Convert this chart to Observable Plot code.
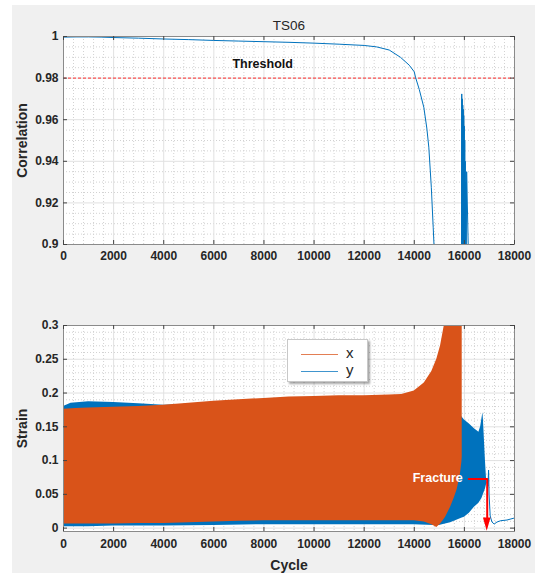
<!DOCTYPE html>
<html>
<head>
<meta charset="utf-8">
<script src="https://cdn.jsdelivr.net/npm/d3@7"></script>
<script src="https://cdn.jsdelivr.net/npm/@observablehq/plot@0.6"></script>
<style>
  body { margin: 0; background: #ffffff; font-family: "Liberation Sans", Arial, sans-serif; }
  #bg { position: absolute; left: 12px; top: 5px; width: 523px; height: 568px; background: #f0f0f0; }
  #top, #bot { position: absolute; left: 0; }
  #top { top: 0; }
  #bot { top: 285px; }
  #legend { position: absolute; left: 287px; top: 339px; width: 81px; height: 43px; background: #fff;
            border: 1px solid #c8c8c8; box-shadow: 2px 2px 2px rgba(0,0,0,0.35); box-sizing: border-box; }
  .lg-row { position: absolute; left: 0; height: 16px; width: 100%; }
  .lg-line { position: absolute; left: 13px; width: 37px; top: 8px; height: 0; border-top: 1px solid; opacity: 0.75; }
  .lg-text { position: absolute; left: 58px; top: -2px; font-size: 15px; color: #262626; line-height: 18px; }
</style>
</head>
<body>
<div id="bg"></div>
<div id="top"></div>
<div id="bot"></div>
<div id="legend"></div>
<script>
// ---------- data ----------
const cycleTicks = [0, 2000, 4000, 6000, 8000, 10000, 12000, 14000, 16000, 18000];
const corrTicks = [0.9, 0.92, 0.94, 0.96, 0.98, 1];
const strainTicks = [0, 0.05, 0.1, 0.15, 0.2, 0.25, 0.3];

const chartTitle = "TS06";
const thresholdValue = 0.98;
const thresholdLabel = "Threshold";
const thresholdLabelCycle = 7950;
const thresholdLabelCorr = 0.9868;

// correlation curve (top panel)
const corrCycle = [0, 500, 1000, 1500, 2000, 3000, 4000, 5000, 6000, 7000, 8000, 9000, 10000, 11000, 12000,
  12500, 13000, 13450, 13800, 14000, 14050, 14200, 14380, 14500, 14580, 14680, 14755, 14790, 14850, 14900,
  15800, 15885, 15895, 15905, 15915, 15925, 15935, 15945, 15955, 15965, 15975, 15985, 15995, 16005, 16015,
  16025, 16035, 16045, 16055, 16070, 16090, 16160, 16200];
const corrValue = [0.9997, 0.9998, 0.9998, 0.9997, 0.9995, 0.9992, 0.9988, 0.9985, 0.9981, 0.9978, 0.9975, 0.9972, 0.9968, 0.9963, 0.9957,
  0.9950, 0.9935, 0.9900, 0.9862, 0.9830, 0.9804, 0.9745, 0.9660, 0.9560, 0.9468, 0.9275, 0.9083, 0.8990, 0.8500, 0.8000,
  0.8000, 0.8800, 0.9724, 0.8800, 0.9700, 0.8800, 0.9670, 0.8800, 0.9650, 0.8800, 0.9620, 0.8800, 0.9570, 0.8800, 0.9500,
  0.8800, 0.9400, 0.8800, 0.9300, 0.8800, 0.9350, 0.8950, 0.8500];

// strain x (orange band)
const xCycle = [0, 500, 1000, 2000, 3000, 4000, 5000, 6000, 7000, 8000, 9000, 10000, 11000, 12000, 13000, 13500,
  14000, 14400, 14700, 14900, 15050, 15150, 15250, 15450, 15600, 15710, 15800, 15850, 15900, 15913];
const xUpper = [0.176, 0.177, 0.178, 0.179, 0.180, 0.182, 0.185, 0.188, 0.190, 0.192, 0.194, 0.195, 0.196, 0.196, 0.197, 0.198,
  0.203, 0.215, 0.232, 0.250, 0.270, 0.290, 0.310, 0.320, 0.320, 0.320, 0.320, 0.320, 0.320, 0.320];
const xLower = [0.006, 0.006, 0.006, 0.006, 0.007, 0.007, 0.008, 0.009, 0.010, 0.011, 0.011, 0.011, 0.011, 0.011, 0.011, 0.011,
  0.011, 0.009, 0.005, 0.001, 0.006, 0.011, 0.016, 0.031, 0.045, 0.057, 0.072, 0.082, 0.098, 0.105];

// strain y (blue band)
const yCycle = [0, 300, 1000, 2000, 3000, 4000, 6000, 8000, 10000, 12000, 14000, 14800, 15000, 15450, 15913,
  16000, 16200, 16400, 16580, 16650, 16700, 16740, 16760, 16800, 16840, 16880, 16900];
const yUpper = [0.180, 0.185, 0.187, 0.186, 0.184, 0.182, 0.185, 0.188, 0.190, 0.192, 0.195, 0.200, 0.200, 0.190, 0.164,
  0.160, 0.154, 0.147, 0.142, 0.150, 0.162, 0.171, 0.160, 0.130, 0.100, 0.075, 0.068];
const yLower = [0.002, 0.002, 0.002, 0.003, 0.003, 0.003, 0.004, 0.005, 0.005, 0.005, 0.005, 0.004, 0.004, 0.008, 0.015,
  0.016, 0.022, 0.031, 0.037, 0.041, 0.044, 0.048, 0.050, 0.054, 0.058, 0.064, 0.068];

// strain y after fracture (thin blue line)
const tailCycle = [16900, 16940, 16965, 16985, 17030, 17100, 17190, 17300, 17450, 17700, 17900, 18000];
const tailStrain = [0.068, 0.062, 0.086, 0.050, 0.018, 0.009, 0.006, 0.009, 0.011, 0.012, 0.014, 0.015];

// fracture annotation
const fractureLabel = "Fracture";
const fractureLabelCycle = 15935;
const fractureLabelStrain = 0.0741;
const fractureLineCycle = [16177, 16911, 16911];
const fractureLineStrain = [0.0727, 0.0727, 0.0150];
const fractureHeadCycle = [16760, 16911, 17062];
const fractureHeadTip = [0.0150, -0.0045, 0.0150];
const fractureHeadBase = [0.0150, 0.0150, 0.0150];

const seriesNames = ["x", "y"];
const seriesColors = ["#D95319", "#0072BD"];

// ---------- helpers ----------
const W = 539;
const font = "'Liberation Sans', Arial, sans-serif";
const textColor = "#262626";
const minorGrid = {stroke: "#d2d2d2", strokeDasharray: "1,2", strokeWidth: 1};
const majorGrid = {stroke: "#e1e1e1", strokeWidth: 1};

function frameMarks(xTicks, yTicks, minorX, minorY, plotW, plotH) {
  return {
    grid: [
      Plot.ruleX(minorX, minorGrid),
      Plot.ruleY(minorY, minorGrid),
      Plot.ruleX(xTicks, majorGrid),
      Plot.ruleY(yTicks, majorGrid)
    ],
    box: [
      Plot.frame({stroke: "#8a8a8a", strokeWidth: 1}),
      Plot.tickX(xTicks, {x: d => d, insetTop: plotH - 4, stroke: "#444"}),
      Plot.tickX(xTicks, {x: d => d, insetBottom: plotH - 4, stroke: "#444"}),
      Plot.tickY(yTicks, {y: d => d, insetRight: plotW - 4, stroke: "#444"}),
      Plot.tickY(yTicks, {y: d => d, insetLeft: plotW - 4, stroke: "#444"})
    ]
  };
}

// ---------- top panel ----------
{
  const mL = 63, mR = 25, mT = 36, mB = 41, H = 285;
  const plotW = W - mL - mR, plotH = H - mT - mB;
  const minorX = d3.range(0, 18001, 400).filter(v => v % 2000 !== 0);
  const minorY = d3.range(0, 21).map(i => 0.9 + i * 0.005).filter((v, i) => i % 4 !== 0);
  const fm = frameMarks(cycleTicks, corrTicks, minorX, minorY, plotW, plotH);
  const corrData = corrCycle.map((c, i) => ({c, v: corrValue[i]}));
  const chart = Plot.plot({
    width: W, height: H,
    marginLeft: mL, marginRight: mR, marginTop: mT, marginBottom: mB,
    style: {background: "transparent", fontFamily: font, overflow: "visible"},
    x: {domain: [0, 18000]},
    y: {domain: [0.9, 1]},
    marks: [
      Plot.frame({fill: "white"}),
      ...fm.grid,
      Plot.ruleY([thresholdValue], {stroke: "#ff2a2a", strokeDasharray: "3,2", strokeWidth: 1}),
      Plot.line(corrData, {x: "c", y: "v", stroke: "#0072BD", strokeWidth: 1, clip: true}),
      Plot.text([thresholdLabel], {x: thresholdLabelCycle, y: thresholdLabelCorr, text: d => d,
        fontWeight: "bold", fontSize: 12.5, fill: "#111"}),
      ...fm.box,
      Plot.axisX(cycleTicks, {tickSize: 0, tickPadding: 7, fontWeight: "bold", fontSize: 12, fill: textColor, label: null, tickFormat: d => String(d)}),
      Plot.axisY(corrTicks, {tickSize: 0, tickPadding: 5, fontWeight: "bold", fontSize: 12, fill: textColor, label: null, tickFormat: d => String(d)}),
      Plot.text([chartTitle], {frameAnchor: "top", dy: -11, text: d => d, fontSize: 13.5, fill: textColor, lineAnchor: "middle"}),
      Plot.text(["Correlation"], {frameAnchor: "left", dx: -41, rotate: -90, text: d => d, fontSize: 14, fontWeight: "bold", fill: textColor, textAnchor: "middle", lineAnchor: "middle"})
    ]
  });
  document.getElementById("top").appendChild(chart);
}

// ---------- bottom panel ----------
{
  const mL = 63, mR = 25, mT = 40, mB = 42, H = 288;
  const plotW = W - mL - mR, plotH = H - mT - mB;
  const minorX = d3.range(0, 18001, 400).filter(v => v % 2000 !== 0);
  const minorY = d3.range(0, 31).map(i => i * 0.01).filter((v, i) => i % 5 !== 0);
  const fm = frameMarks(cycleTicks, strainTicks, minorX, minorY, plotW, plotH);
  const xData = xCycle.map((c, i) => ({c, lo: xLower[i], hi: xUpper[i]}));
  const yData = yCycle.map((c, i) => ({c, lo: yLower[i], hi: yUpper[i]}));
  const tailData = tailCycle.map((c, i) => ({c, v: tailStrain[i]}));
  const arrowLine = fractureLineCycle.map((c, i) => ({c, v: fractureLineStrain[i]}));
  const arrowHead = fractureHeadCycle.map((c, i) => ({c, tip: fractureHeadTip[i], base: fractureHeadBase[i]}));
  const chart = Plot.plot({
    width: W, height: H,
    marginLeft: mL, marginRight: mR, marginTop: mT, marginBottom: mB,
    style: {background: "transparent", fontFamily: font, overflow: "visible"},
    x: {domain: [0, 18000]},
    y: {domain: [-0.005, 0.3]},
    marks: [
      Plot.frame({fill: "white"}),
      ...fm.grid,
      Plot.areaY(yData, {x: "c", y1: "lo", y2: "hi", fill: seriesColors[1], clip: true}),
      Plot.line(tailData, {x: "c", y: "v", stroke: seriesColors[1], strokeWidth: 1, clip: true}),
      Plot.areaY(xData, {x: "c", y1: "lo", y2: "hi", fill: seriesColors[0], clip: true}),
      Plot.text([fractureLabel], {x: fractureLabelCycle, y: fractureLabelStrain, text: d => d, textAnchor: "end",
        fill: "white", fontWeight: "bold", fontSize: 12.5}),
      Plot.line(arrowLine, {x: "c", y: "v", stroke: "#ff0000", strokeWidth: 2}),
      Plot.areaY(arrowHead, {x: "c", y1: "tip", y2: "base", fill: "#ff0000"}),
      ...fm.box,
      Plot.axisX(cycleTicks, {tickSize: 0, tickPadding: 8, fontWeight: "bold", fontSize: 12, fill: textColor, label: null, tickFormat: d => String(d)}),
      Plot.axisY(strainTicks, {tickSize: 0, tickPadding: 5, fontWeight: "bold", fontSize: 12, fill: textColor, label: null, tickFormat: d => String(d)}),
      Plot.text(["Cycle"], {frameAnchor: "bottom", dy: 34, text: d => d, fontSize: 14, fontWeight: "bold", fill: textColor, lineAnchor: "middle"}),
      Plot.text(["Strain"], {frameAnchor: "left", dx: -41, rotate: -90, text: d => d, fontSize: 14, fontWeight: "bold", fill: textColor, textAnchor: "middle", lineAnchor: "middle"})
    ]
  });
  document.getElementById("bot").appendChild(chart);
}

// ---------- legend ----------
{
  const lg = document.getElementById("legend");
  seriesNames.forEach((name, i) => {
    const row = document.createElement("div");
    row.className = "lg-row";
    row.style.top = (6 + i * 17) + "px";
    const line = document.createElement("div");
    line.className = "lg-line";
    line.style.borderTopColor = seriesColors[i];
    const txt = document.createElement("div");
    txt.className = "lg-text";
    txt.textContent = name;
    row.appendChild(line);
    row.appendChild(txt);
    lg.appendChild(row);
  });
}
</script>
</body>
</html>
